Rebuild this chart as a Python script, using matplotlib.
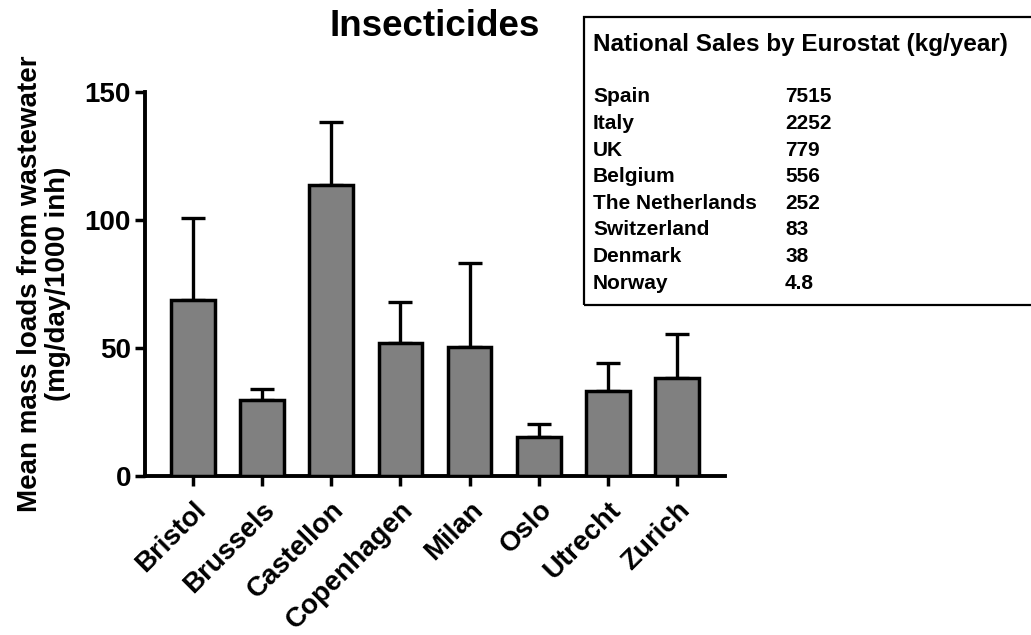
import numpy as np
import matplotlib
matplotlib.use("Agg")
from matplotlib import pyplot as plt
from matplotlib.patches import Rectangle

plt.rcParams['font.family'] = ['Liberation Sans', 'DejaVu Sans']

cities = ["Bristol", "Brussels", "Castellon", "Copenhagen", "Milan", "Oslo", "Utrecht", "Zurich"]
mean_load = [68.8, 29.7, 113.9, 51.9, 50.4, 15.1, 33.4, 38.2]
sd_load = [32.1, 4.3, 24.5, 16.2, 33.0, 5.2, 10.9, 17.2]

countries = ["Spain", "Italy", "UK", "Belgium", "The Netherlands", "Switzerland", "Denmark", "Norway"]
sales = ["7515", "2252", "779", "556", "252", "83", "38", "4.8"]

W, H = 1031, 635
fig = plt.figure(figsize=(W / 100, H / 100), dpi=100)
ax = fig.add_axes([145 / W, 1 - 476 / H, 580 / W, 383.7 / H])

x = np.arange(len(cities))
ax.bar(x, mean_load, width=0.63, color="#808080", edgecolor="black", linewidth=2.5, zorder=3)
ax.errorbar(x, mean_load, yerr=[np.zeros(len(x)), sd_load], fmt="none", ecolor="black",
            elinewidth=2.4, capsize=8.3, capthick=2.4, zorder=2)

ax.set_xlim(-0.69, 7.69)
ax.set_ylim(0, 150)
ax.set_yticks([0, 50, 100, 150])
ax.set_xticks(x)
ax.set_xticklabels(cities, rotation=45, ha="right", va="top", rotation_mode="anchor",
                   fontsize=20, fontweight="bold")
for lab in ax.get_yticklabels():
    lab.set_fontsize(20)
    lab.set_fontweight("bold")
ax.tick_params(axis="both", width=2.5, length=7, direction="out", pad=3)
ax.tick_params(axis="x", pad=8)

for s in ["top", "right"]:
    ax.spines[s].set_visible(False)
for s in ["left", "bottom"]:
    ax.spines[s].set_linewidth(2.8)

ax.set_ylabel("Mean mass loads from wastewater\n(mg/day/1000 inh)", fontsize=20,
              fontweight="bold", labelpad=10, linespacing=1.1)

fig.text(435 / W, 1 - 26 / H, "Insecticides", fontsize=26.5, fontweight="bold",
         ha="center", va="center")

# sales table in the top right corner
fig.patches.append(Rectangle((584 / W, 1 - 305 / H), 460 / W, 288 / H, fill=False,
                             edgecolor="black", linewidth=1.6, transform=fig.transFigure))
fig.text(593 / W, 1 - 44 / H, "National Sales by Eurostat (kg/year)", fontsize=17.5,
         fontweight="bold", ha="left", va="center")
for i, (c, v) in enumerate(zip(countries, sales)):
    yy = 1 - (96.7 + 26.65 * i) / H
    fig.text(593 / W, yy, c, fontsize=15, fontweight="bold", ha="left", va="center")
    fig.text(785 / W, yy, v, fontsize=15, fontweight="bold", ha="left", va="center")

fig.savefig("out.png", dpi=100)
